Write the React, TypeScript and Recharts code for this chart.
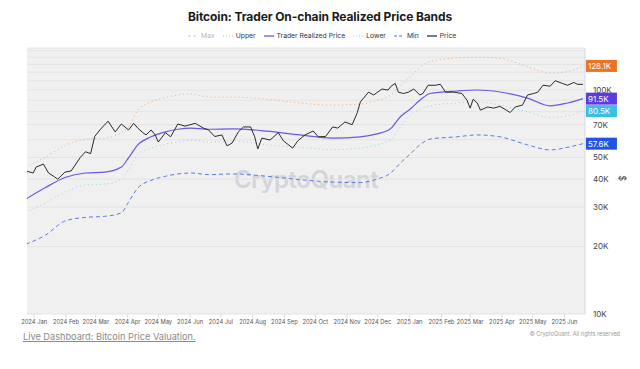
import { LineChart, Line, XAxis, YAxis, CartesianGrid } from 'recharts';

// band series share one date grid (values in K USD)
const bandDates = [
  '2023-12-24', '2024-01-12', '2024-01-31', '2024-02-20', '2024-03-10', '2024-03-26', '2024-04-02',
  '2024-04-11', '2024-04-24', '2024-05-08', '2024-05-20', '2024-06-02', '2024-06-19', '2024-07-13',
  '2024-08-15', '2024-09-16', '2024-10-18', '2024-11-14', '2024-11-30', '2024-12-13', '2024-12-23',
  '2025-01-02', '2025-01-11', '2025-01-21', '2025-02-16', '2025-03-08', '2025-03-30', '2025-04-26',
  '2025-05-18', '2025-06-04', '2025-06-19',
];
const realizedValues = [
  32.6, 36.7, 40.7, 42.6, 43, 45.3, 49.8, 56.9, 61.8, 65, 66.8, 67.6, 66.8, 67, 65.5, 63, 61,
  61.8, 63.7, 67, 76, 82.5, 90, 96.5, 99, 100, 98, 92, 85, 87.5, 91.5,
];
const upperValues = [
  45.3, 50.2, 56.5, 60.4, 61, 64.5, 68.4, 81.3, 88.5, 92.5, 95, 96, 93, 93, 91, 87.5, 85.6,
  86.5, 90, 94.5, 104, 115, 126, 134, 139, 140, 138.5, 127, 119, 121, 128.1,
];
const lowerValues = [
  28.5, 31.3, 35, 37.7, 38, 40, 44, 51.5, 55, 57.3, 58.6, 59.8, 58.5, 59.3, 56.9, 55.5, 54.2,
  55, 56.9, 59.8, 68.4, 77.5, 82, 85, 87.5, 88.5, 85.6, 80, 75.5, 76.6, 80.5,
];
const minValues = [
  20.5, 22.5, 26, 27, 27.3, 28.3, 31.6, 36.5, 39.5, 41.2, 42.2, 42.6, 41.9, 42.2, 41.2, 39.8, 38.8,
  38.6, 40, 42.4, 47.2, 52, 56.9, 60.4, 61.8, 63, 61.8, 56.9, 54, 55.5, 57.6,
];

const priceDates = [
  '2023-12-24', '2023-12-31', '2024-01-03', '2024-01-10', '2024-01-15', '2024-01-21', '2024-01-24',
  '2024-01-31', '2024-02-06', '2024-02-15', '2024-02-20', '2024-02-25', '2024-02-29', '2024-03-05',
  '2024-03-13', '2024-03-20', '2024-03-26', '2024-04-02', '2024-04-07', '2024-04-11', '2024-04-16',
  '2024-04-19', '2024-04-24', '2024-04-28', '2024-05-01', '2024-05-08', '2024-05-13', '2024-05-20',
  '2024-05-27', '2024-06-06', '2024-06-14', '2024-06-19', '2024-06-25', '2024-07-02', '2024-07-07',
  '2024-07-12', '2024-07-18', '2024-07-23', '2024-07-30', '2024-08-03', '2024-08-06', '2024-08-10',
  '2024-08-18', '2024-08-26', '2024-08-31', '2024-09-09', '2024-09-14', '2024-09-21', '2024-09-29',
  '2024-10-04', '2024-10-11', '2024-10-18', '2024-10-23', '2024-10-30', '2024-11-06', '2024-11-11',
  '2024-11-14', '2024-11-22', '2024-11-27', '2024-12-05', '2024-12-11', '2024-12-14', '2024-12-18',
  '2024-12-21', '2024-12-26', '2024-12-31', '2025-01-05', '2025-01-11', '2025-01-14', '2025-01-19',
  '2025-01-26', '2025-01-31', '2025-02-05', '2025-02-13', '2025-02-21', '2025-02-26', '2025-03-01',
  '2025-03-04', '2025-03-08', '2025-03-11', '2025-03-18', '2025-03-24', '2025-03-30', '2025-04-04',
  '2025-04-09', '2025-04-14', '2025-04-21', '2025-04-26', '2025-05-02', '2025-05-06', '2025-05-11',
  '2025-05-18', '2025-05-23', '2025-05-30', '2025-06-04', '2025-06-10', '2025-06-14', '2025-06-19',
];
const priceValues = [
  43.5, 42.6, 45.3, 46.7, 42.6, 40.9, 40, 43, 43.5, 50, 53, 52, 62, 66.3,
  72.6, 65, 70.5, 66.3, 71, 67.6, 64.5, 63, 66.3, 63, 58.6, 64.5, 61.8, 70.5,
  69, 71, 67.6, 66.3, 62, 63, 56.3, 58, 65, 68.4, 68.4, 61.8, 54.6, 61,
  59.8, 64.5, 59.3, 55, 59.3, 63, 65.6, 61.8, 62, 68.4, 67.6, 72, 70, 79.3,
  88.5, 97.8, 95, 101, 100, 104, 107, 97.8, 96.5, 97.8, 101, 95, 96.5, 105,
  105, 106, 97.8, 97.8, 96.5, 90, 83, 91, 87.5, 81.3, 84, 83, 84.5, 82,
  79.3, 84, 85.6, 95, 96.5, 97.8, 105, 104, 110, 107, 105, 108, 106, 106,
];

const monthTicks = [
  '2024-01-01', '2024-02-01', '2024-03-01', '2024-04-01', '2024-05-01', '2024-06-01',
  '2024-07-01', '2024-08-01', '2024-09-01', '2024-10-01', '2024-11-01', '2024-12-01',
  '2025-01-01', '2025-02-01', '2025-03-01', '2025-04-01', '2025-05-01', '2025-06-01',
];
const monthNames = ['Jan', 'Feb', 'Mar', 'Apr', 'May', 'Jun', 'Jul', 'Aug', 'Sep', 'Oct', 'Nov', 'Dec'];
const yTicks = [10, 20, 30, 40, 50, 60, 70, 80, 90, 100, 110, 120, 130, 140, 150];
const yLabelTicks = [10, 20, 30, 40, 50, 70, 100];

const ts = (s: string) => Date.parse(s);
const toSeries = (dates: string[], vals: number[]) => dates.map((d, i) => ({ t: ts(d), v: vals[i] }));

const realized = toSeries(bandDates, realizedValues);
const upper = toSeries(bandDates, upperValues);
const lower = toSeries(bandDates, lowerValues);
const minBand = toSeries(bandDates, minValues);
const price = toSeries(priceDates, priceValues);

const FONT = 'Inter, "Noto Sans", sans-serif';

const badge = (color: string, total: number) => (p: any) => {
  if (p.index !== total - 1) return null;
  return (
    <g key={`badge-${color}`}>
      <rect x={p.x + 3} y={p.y - 6} width={31} height={12} fill={color} />
      <text x={p.x + 5} y={p.y + 3} fontSize={8} fill="#fff" fontFamily={FONT}>{`${p.value}K`}</text>
    </g>
  );
};

function LegendItem({ label, color, dash, muted }: { label: string; color: string; dash?: string; muted?: boolean }) {
  return (
    <span style={{ display: 'inline-flex', alignItems: 'center', marginRight: 8 }}>
      <svg width={10} height={6} style={{ marginRight: 3 }}>
        <line x1={0} y1={3} x2={10} y2={3} stroke={color} strokeWidth={1.2} strokeDasharray={dash} />
      </svg>
      <span style={{ color: muted ? '#b8b8b8' : '#333' }}>{label}</span>
    </span>
  );
}

export default function App() {
  return (
    <div style={{ position: 'relative', width: 640, height: 369, background: '#fff', fontFamily: FONT, overflow: 'hidden' }}>
      <style>{'body{margin:0}'}</style>
      <div style={{ position: 'absolute', top: 9, left: 0, width: 640, textAlign: 'center', fontSize: 12, fontWeight: 700, color: '#1a1a1a', letterSpacing: -0.1 }}>
        Bitcoin: Trader On-chain Realized Price Bands
      </div>
      <div style={{ position: 'absolute', top: 31, left: 188, fontSize: 6.8, display: 'flex', alignItems: 'center', whiteSpace: 'nowrap' }}>
        <LegendItem label="Max" color="#c8c8c8" dash="3 2" muted />
        <LegendItem label="Upper" color="#f2a878" dash="1 2" />
        <LegendItem label="Trader Realized Price" color="#5b48de" />
        <LegendItem label="Lower" color="#8fd6e4" dash="1 2" />
        <LegendItem label="Min" color="#4a6fe0" dash="3 2" />
        <LegendItem label="Price" color="#222" />
      </div>
      {/* plot background + watermark sit behind the svg */}
      <div style={{ position: 'absolute', left: 27, top: 48, width: 558, height: 266, background: '#f0f0f0' }} />
      <div style={{ position: 'absolute', left: 27, top: 165, width: 558, textAlign: 'center', fontSize: 24, fontWeight: 600, color: '#d4d4dc', letterSpacing: -0.5 }}>
        CryptoQuant
      </div>
      <div style={{ position: 'absolute', left: 0, top: 0 }}>
        <LineChart width={640} height={332} margin={{ top: 48, right: 0, left: 27, bottom: 2 }}>
          <CartesianGrid vertical={false} stroke="#e4e4e4" strokeWidth={1} />
          <XAxis
            type="number"
            dataKey="t"
            domain={[Date.UTC(2023, 11, 25), Date.UTC(2025, 5, 21)]}
            ticks={monthTicks.map(ts)}
            tickFormatter={(t: number) => {
              const d = new Date(t);
              return `${d.getUTCFullYear()} ${monthNames[d.getUTCMonth()]}`;
            }}
            axisLine={false}
            tickLine={{ stroke: '#dcdcdc' }}
            tickSize={4}
            height={16}
            interval={0}
            tick={{ fontSize: 5.8, fill: '#555', fontFamily: FONT }}
            allowDataOverflow
          />
          <YAxis
            orientation="right"
            scale="log"
            domain={[10, 154]}
            ticks={yTicks}
            allowDataOverflow
            interval={0}
            width={55}
            axisLine={{ stroke: '#d6d6e2' }}
            tickLine={false}
            tickFormatter={(v: number) => (yLabelTicks.includes(v) ? `${v}K` : '')}
            tick={{ fontSize: 8, fill: '#444', fontFamily: FONT, dx: 0 }}
            label={{ value: '$', angle: 90, position: 'insideRight', offset: 18, fontSize: 9, fill: '#444' }}
          />
          <Line data={upper} dataKey="v" stroke="#f2a878" strokeWidth={1} strokeDasharray="1 3" dot={false} isAnimationActive={false} type="monotone" label={badge('#ea7424', upper.length)} />
          <Line data={lower} dataKey="v" stroke="#8fd6e4" strokeWidth={1} strokeDasharray="1 3" dot={false} isAnimationActive={false} type="monotone" label={badge('#3fbde0', lower.length)} />
          <Line data={minBand} dataKey="v" stroke="#5a7ee0" strokeWidth={1} strokeDasharray="4 3" dot={false} isAnimationActive={false} type="monotone" label={badge('#1f55df', minBand.length)} />
          <Line data={realized} dataKey="v" stroke="#6a58e4" strokeWidth={1.2} dot={false} isAnimationActive={false} type="monotone" label={badge('#5a3de0', realized.length)} />
          <Line data={price} dataKey="v" stroke="#2a2a2a" strokeWidth={1} dot={false} isAnimationActive={false} type="linear" />
        </LineChart>
      </div>
      <div style={{ position: 'absolute', left: 23, top: 331, fontSize: 9.2, color: '#8a8a8a', textDecoration: 'underline' }}>
        Live Dashboard: Bitcoin Price Valuation.
      </div>
      <div style={{ position: 'absolute', right: 20, top: 331, fontSize: 5.5, color: '#999' }}>
        © CryptoQuant. All rights reserved
      </div>
    </div>
  );
}
